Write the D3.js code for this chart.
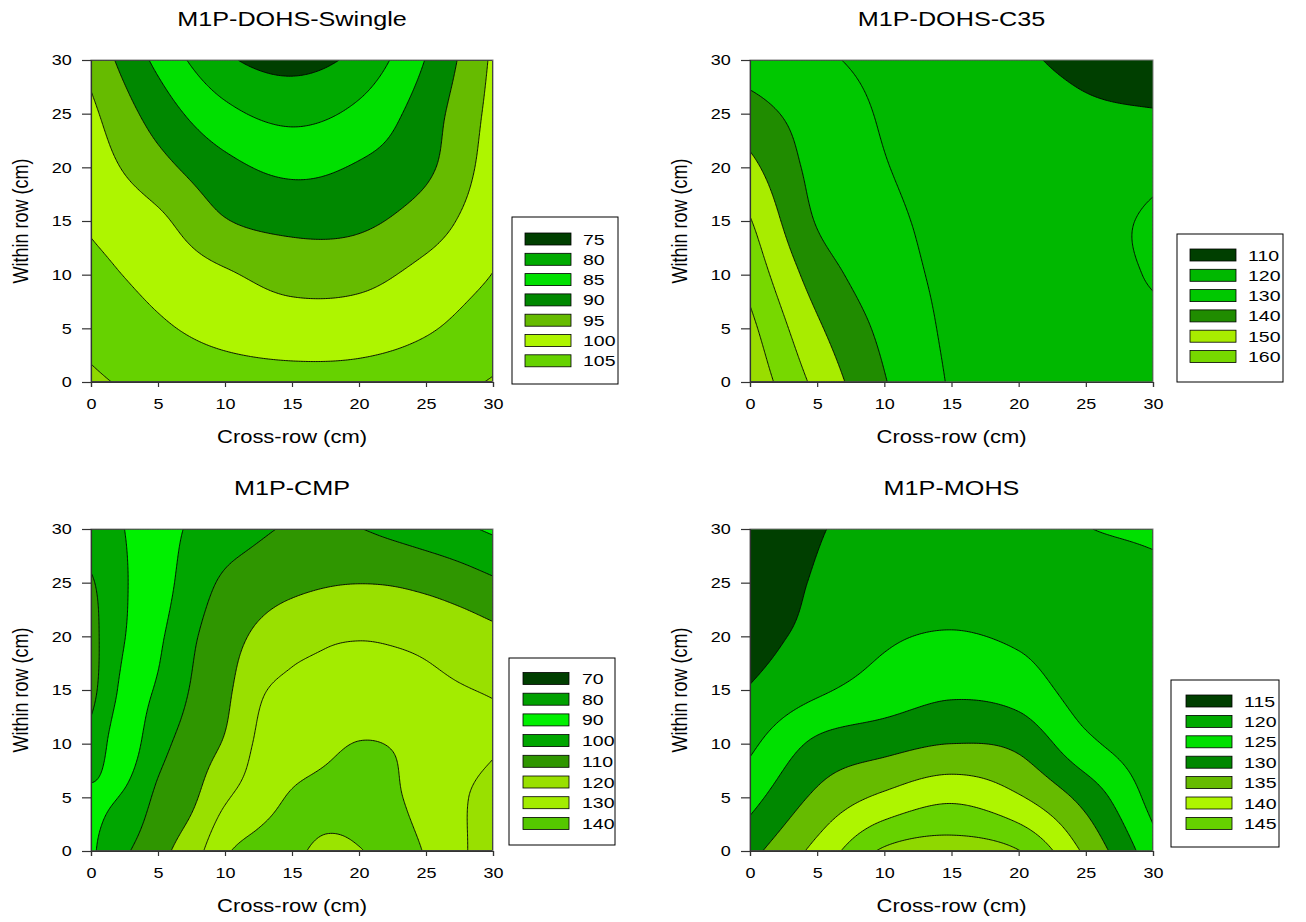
<!DOCTYPE html>
<html><head><meta charset="utf-8">
<script src="https://cdn.jsdelivr.net/npm/d3@7"></script>
<style>
body{margin:0;background:#fff}
svg{display:block}
text{font-family:"Liberation Sans",Arial,sans-serif;fill:#000}
</style></head>
<body><svg id="chart" width="1306" height="922"></svg>
<script>
// ---------- data ----------
const gridX = [0, 5, 10, 15, 20, 25, 30];          // cross-row sample positions (cm)
const gridY = [0, 5, 10, 15, 20, 25, 30];          // within-row sample positions (cm)
const cmpGridX = [0, 2.5, 5, 7.5, 10, 12.5, 15, 17.5, 20, 22.5, 25, 27.5, 30];
const xTicks = [0, 5, 10, 15, 20, 25, 30];
const yTicks = [0, 5, 10, 15, 20, 25, 30];

const titles = ["M1P-DOHS-Swingle", "M1P-DOHS-C35", "M1P-CMP", "M1P-MOHS"];
const xTitle = "Cross-row (cm)";
const yTitle = "Within row (cm)";

// rows: y = 0 .. 30 (bottom to top), columns: x positions
const swingleValues = [
  [110.7, 108.5, 107.2, 106.6, 106.8, 108.0, 110.3],
  [108.6, 105.7, 103.5, 102.5, 102.7, 104.5, 107.6],
  [106.4, 103.4, 100.6,  98.2,  98.5, 101.5, 105.1],
  [104.4, 101.0,  95.3,  93.6,  94.0,  97.5, 103.5],
  [102.6,  96.7,  91.4,  88.9,  90.5,  94.0, 102.4],
  [101.0,  92.8,  86.3,  83.7,  86.2,  92.6, 101.5],
  [ 98.5,  88.8,  80.9,  78.4,  81.5,  90.2, 100.8]
];
const swingleLevels = [75, 80, 85, 90, 95, 100, 105, 110];
const swingleLegend = ["75", "80", "85", "90", "95", "100", "105"];

const c35Values = [
  [177.0, 157.4, 140.6, 129.3, 126.5, 125.5, 126.5],
  [172.4, 151.6, 137.7, 128.5, 126.0, 126.5, 128.3],
  [166.5, 145.4, 134.4, 128.0, 125.5, 127.0, 130.6],
  [160.6, 139.3, 132.1, 127.5, 125.0, 127.0, 131.2],
  [152.5, 136.9, 130.4, 127.0, 124.5, 124.5, 127.5],
  [143.9, 135.4, 129.2, 126.2, 124.0, 121.5, 120.7],
  [135.1, 131.3, 128.0, 126.0, 121.5, 117.5, 114.0]
];
const c35Levels = [110, 120, 130, 140, 150, 160, 170];
const c35Legend = ["110", "120", "130", "140", "150", "160"];

const cmpValues = [
  [ 98.4, 108.4, 117.0, 125.2, 138.5, 144.0, 147.0, 153.2, 150.6, 145.6, 139.2, 131.5, 126.0],
  [ 98.5, 101.0, 112.0, 118.1, 128.7, 135.2, 141.0, 143.5, 144.0, 141.5, 136.0, 131.2, 127.0],
  [106.0,  96.0, 106.5, 114.5, 121.0, 131.5, 135.0, 138.0, 140.3, 139.5, 136.0, 133.0, 130.8],
  [113.0,  98.0, 101.0, 110.7, 117.7, 128.5, 132.0, 132.5, 133.0, 132.7, 131.8, 130.5, 129.4],
  [113.5, 100.2,  98.8, 108.5, 115.3, 122.0, 126.5, 128.8, 129.5, 129.0, 127.8, 125.5, 122.7],
  [111.2, 100.8,  96.5, 105.0, 111.5, 115.0, 117.5, 119.2, 119.8, 119.3, 117.5, 114.8, 111.5],
  [103.0, 100.0,  96.5, 101.3, 104.9, 108.4, 111.2, 112.5, 110.3, 107.5, 104.7, 101.9,  98.5]
];
const cmpLevels = [70, 80, 90, 100, 110, 120, 130, 140, 150];
const cmpLegend = ["70", "80", "90", "100", "110", "120", "130", "140"];

const mohsValues = [
  [133.5, 141.5, 150.8, 152.5, 150.2, 139.0, 127.0],
  [128.3, 136.0, 141.0, 144.0, 140.5, 133.2, 123.3],
  [124.0, 131.0, 133.2, 135.0, 133.8, 126.2, 121.8],
  [120.3, 124.2, 127.1, 129.1, 127.8, 122.7, 121.2],
  [118.0, 121.5, 124.3, 125.4, 124.2, 121.8, 121.8],
  [116.0, 120.5, 122.0, 122.5, 122.0, 122.0, 123.5],
  [114.5, 119.6, 121.0, 121.5, 121.8, 124.8, 126.0]
];
const mohsLevels = [115, 120, 125, 130, 135, 140, 145, 150];
const mohsLegend = ["115", "120", "125", "130", "135", "140", "145"];

// ---------- styles ----------
const paletteA = ["#003f00", "#00aa00", "#00e000", "#008800", "#66bb00", "#aef500", "#66d200", "#8fd800"];
const paletteC35 = ["#003f00", "#00b800", "#00c800", "#208c00", "#a8ec00", "#77d800", "#99dd00"];
const paletteCMP = ["#003f00", "#00a000", "#00f000", "#00a600", "#2f9600", "#99e000", "#a3ec00", "#55c800", "#9be400"];

const panels = [
  {title: titles[0], values: swingleValues, gx: gridX, gy: gridY, levels: swingleLevels, legend: swingleLegend, colors: paletteA,
   x: 91, y: 60, w: 402, h: 322, lg: {x: 512, y: 217, w: 106, h: 167, sx: 525, tx: 583, r0: 239, dr: 20.3}},
  {title: titles[1], values: c35Values, gx: gridX, gy: gridY, levels: c35Levels, legend: c35Legend, colors: paletteC35,
   x: 750, y: 60, w: 403, h: 322, lg: {x: 1177, y: 234, w: 106, h: 148, sx: 1190, tx: 1248, r0: 255, dr: 20.3}},
  {title: titles[2], values: cmpValues, gx: cmpGridX, gy: gridY, levels: cmpLevels, legend: cmpLegend, colors: paletteCMP,
   x: 91, y: 529, w: 402, h: 322, lg: {x: 509, y: 658, w: 106, h: 187, sx: 523, tx: 582, r0: 678.5, dr: 20.7}},
  {title: titles[3], values: mohsValues, gx: gridX, gy: gridY, levels: mohsLevels, legend: mohsLegend, colors: paletteA,
   x: 750, y: 529, w: 403, h: 322, lg: {x: 1171, y: 680, w: 108, h: 167, sx: 1186, tx: 1244, r0: 701, dr: 20.4}}
];

const svg = d3.select("#chart");
const N = 241;

function cubic(p0, p1, p2, p3, t) {
  return p1 + 0.5 * t * (p2 - p0 + t * (2 * p0 - 5 * p1 + 4 * p2 - p3 + t * (3 * (p1 - p2) + p3 - p0)));
}
// smooth resampling of the read grid for drawing
function resample(vals) {
  const n = vals.length, m = vals[0].length;
  const P = [];
  for (let j = 0; j < n + 2; j++) P.push(new Array(m + 2).fill(0));
  for (let j = 0; j < n; j++) for (let i = 0; i < m; i++) P[j + 1][i + 1] = vals[j][i];
  for (let j = 1; j <= n; j++) { P[j][0] = 2 * P[j][1] - P[j][2]; P[j][m + 1] = 2 * P[j][m] - P[j][m - 1]; }
  for (let i = 0; i < m + 2; i++) { P[0][i] = 2 * P[1][i] - P[2][i]; P[n + 1][i] = 2 * P[n][i] - P[n - 1][i]; }
  const out = new Float64Array(N * N);
  for (let r = 0; r < N; r++) {
    const v = r / (N - 1) * (n - 1);
    const j0 = Math.min(Math.floor(v), n - 2), s = v - j0;
    for (let c = 0; c < N; c++) {
      const u = c / (N - 1) * (m - 1);
      const i0 = Math.min(Math.floor(u), m - 2), t = u - i0;
      const rows = [];
      for (let k = 0; k < 4; k++) {
        const row = P[j0 + k];
        rows.push(cubic(row[i0], row[i0 + 1], row[i0 + 2], row[i0 + 3], t));
      }
      out[r * N + c] = cubic(rows[0], rows[1], rows[2], rows[3], s);
    }
  }
  return out;
}

function stext(g, x, y, str, size, anchor, sx, rotate) {
  return g.append("text")
    .attr("transform", `translate(${x},${y})` + (rotate ? ` rotate(-90) scale(1,${sx})` : ` scale(${sx},1)`))
    .attr("text-anchor", anchor)
    .style("font-size", size + "px")
    .text(str);
}

panels.forEach((p, pi) => {
  const g = svg.append("g");
  const xs = d3.scaleLinear().domain([0, 30]).range([p.x, p.x + p.w]);
  const ys = d3.scaleLinear().domain([0, 30]).range([p.y + p.h, p.y]);
  const clipId = "clip" + pi;
  g.append("clipPath").attr("id", clipId).append("rect")
    .attr("x", p.x).attr("y", p.y).attr("width", p.w).attr("height", p.h);

  const grid = resample(p.values);
  const x0 = p.gx[0], x1 = p.gx[p.gx.length - 1];
  const y0 = p.gy[0], y1 = p.gy[p.gy.length - 1];
  const clamp = (v, a, b) => Math.max(a, Math.min(b, v));
  const toX = c => xs(clamp(x0 + (c - 0.5) / (N - 1) * (x1 - x0), x0, x1));
  const toY = c => ys(clamp(y0 + (c - 0.5) / (N - 1) * (y1 - y0), y0, y1));
  const proj = d3.geoTransform({point: function (x, y) { this.stream.point(toX(x), toY(y)); }});
  const path = d3.geoPath(proj);

  const contours = d3.contours().size([N, N]).thresholds(p.levels.slice(1))(grid);
  const cg = g.append("g").attr("clip-path", `url(#${clipId})`);
  cg.append("rect").attr("x", p.x).attr("y", p.y).attr("width", p.w).attr("height", p.h)
    .attr("fill", p.colors[0]);
  contours.forEach((c, k) => {
    cg.append("path").attr("d", path(c)).attr("fill", p.colors[k + 1]).attr("stroke", "none");
  });
  contours.forEach(c => {
    cg.append("path").attr("d", path(c)).attr("fill", "none").attr("stroke", "#000").attr("stroke-width", 0.9);
  });

  // frame
  g.append("rect").attr("x", p.x).attr("y", p.y).attr("width", p.w).attr("height", p.h)
    .attr("fill", "none").attr("stroke", "#808080").attr("stroke-width", 1);

  // axes
  const ax = g.append("g").attr("transform", `translate(0,${p.y + p.h})`)
    .call(d3.axisBottom(xs).tickValues(xTicks).tickSize(5).tickPadding(11).tickFormat(d3.format("d")));
  const ay = g.append("g").attr("transform", `translate(${p.x},0)`)
    .call(d3.axisLeft(ys).tickValues(yTicks).tickSize(9).tickPadding(7).tickFormat(d3.format("d")));
  [ax, ay].forEach(a => {
    a.select(".domain").attr("stroke", "#333").attr("stroke-width", 1.2);
    a.selectAll(".tick line").attr("stroke", "#333").attr("stroke-width", 1.2);
    a.selectAll("text").style("font-size", "15px").attr("fill", "#000")
      .style("font-family", '"Liberation Sans", Arial, sans-serif')
      .attr("transform", "scale(1.2,1)");
  });

  // titles
  stext(g, p.x + p.w / 2, p.y - 34, p.title, 21, "middle", 1.2, false);
  stext(g, p.x + p.w / 2, p.y + p.h + 61, xTitle, 18, "middle", 1.22, false);
  stext(g, p.x - 63, p.y + p.h / 2, yTitle, 18, "middle", 1.22, true);

  // legend
  const L = p.lg;
  g.append("rect").attr("x", L.x).attr("y", L.y).attr("width", L.w).attr("height", L.h)
    .attr("fill", "#fff").attr("stroke", "#000").attr("stroke-width", 1);
  p.legend.forEach((lab, k) => {
    const cy = L.r0 + k * L.dr;
    g.append("rect").attr("x", L.sx).attr("y", cy - 6).attr("width", 46).attr("height", 12)
      .attr("fill", p.colors[k]).attr("stroke", "#000").attr("stroke-width", 0.8);
    stext(g, L.tx, cy + 5.5, lab, 15, "start", 1.3, false);
  });
});
</script>
</body></html>
